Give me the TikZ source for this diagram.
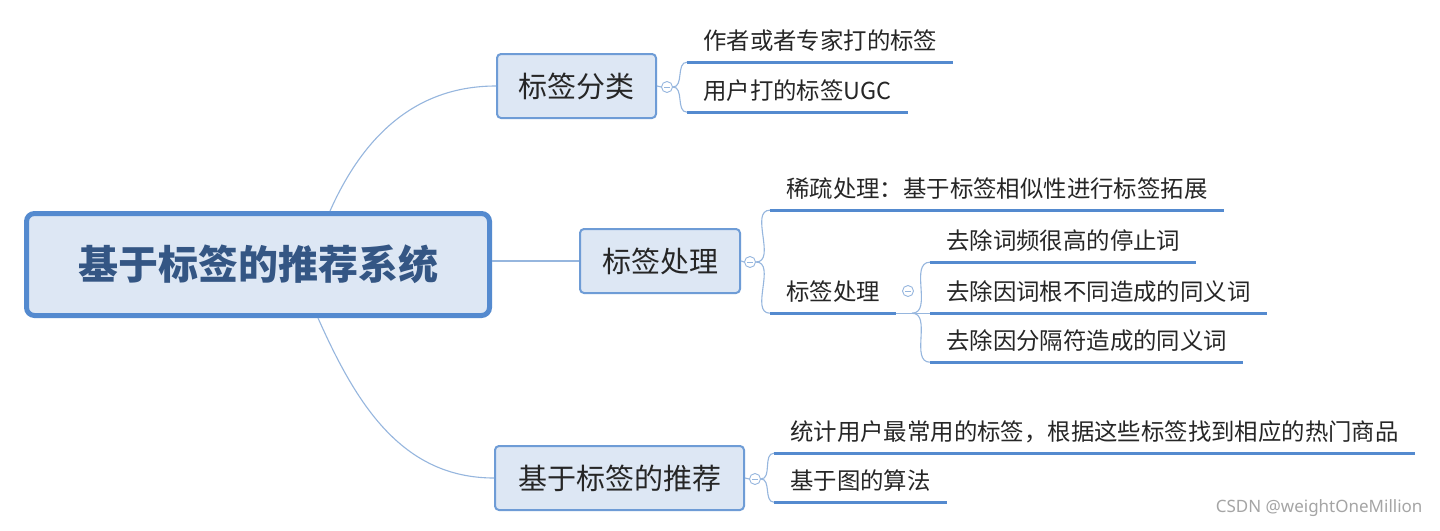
\documentclass[tikz,border=0pt]{standalone}
\usepackage{fontspec}
\setmainfont{Noto Sans CJK SC}
\newfontfamily\marksans{Noto Sans}
\usepackage{tikz}
\usetikzlibrary{calc,positioning}
\definecolor{mapblue}{RGB}{84,138,207}
\definecolor{mapline}{RGB}{150,182,222}
\definecolor{mapfill}{RGB}{221,231,244}
\definecolor{maptext}{RGB}{52,86,132}
\definecolor{mapdark}{RGB}{38,38,38}
\definecolor{mapgrey}{RGB}{165,165,165}
\tikzset{
  link/.style={line width=1.1pt, draw=mapline},
  uline/.style={line width=3pt, draw=mapblue},
  rootbox/.style={
    draw=mapblue,
    line width=5pt,
    rounded corners=8pt,
    fill=mapfill,
    text=maptext,
    font=\fontsize{40}{48}\selectfont\bfseries,
    minimum width=463pt,
    minimum height=102pt
  },
  topic/.style={
    draw=mapblue!85,
    line width=2pt,
    rounded corners=4pt,
    fill=mapfill,
    text=mapdark,
    font=\fontsize{29}{34}\selectfont,
    minimum height=64pt
  },
  leaf/.style={
    anchor=base west,
    font=\fontsize{23.4}{28}\selectfont,
    text=mapdark,
    inner xsep=16pt,
    inner ysep=0pt,
    text height=20pt,
    text depth=13pt
  },
  fold/.style={
    circle,
    draw=mapline,
    line width=0.9pt,
    fill=white,
    minimum size=11pt,
    inner sep=0pt,
    path picture={\draw[mapline,line width=0.9pt]
      ([xshift=-2.6pt]path picture bounding box.center) --
      ([xshift=2.6pt]path picture bounding box.center);}
  }
}

\begin{document}
\begin{tikzpicture}[x=1pt,y=-1pt]
  \useasboundingbox[fill=white] (0,0) rectangle (1440,530);

  \node[rootbox] (root) at (258,264.5) {基于标签的推荐系统};
  \node[topic,minimum width=159pt] (b1) at (576.5,86) {标签分类};
  \node[topic,minimum width=160pt] (b2) at (660,261) {标签处理};
  \node[topic,minimum width=249pt] (b3) at (619.5,478) {基于标签的推荐};

  \node[fold] (f1) at (667,87) {};
  \node[fold] (f2) at (750,262) {};
  \node[fold] (f3) at (755,479) {};
  \node[fold] (f4) at (908,291) {};

  \node[leaf] (l1) at (687,49) {作者或者专家打的标签};
  \node[leaf] (l2) at (687,99) {用户打的标签UGC};
  \node[leaf] (l3) at (770,197) {稀疏处理：基于标签相似性进行标签拓展};
  \node[leaf] (sub) at (770,300) {标签处理};
  \node[leaf] (s1) at (930,249) {去除词频很高的停止词};
  \node[leaf] (s2) at (930,300) {去除因词根不同造成的同义词};
  \node[leaf] (s3) at (930,349) {去除因分隔符造成的同义词};
  \node[leaf] (l6) at (774,440) {统计用户最常用的标签，根据这些标签找到相应的热门商品};
  \node[leaf] (l7) at (774,489) {基于图的算法};

  \node[anchor=east,text=mapgrey,font=\marksans\fontsize{17}{20}\selectfont] (mark) at (1426,508) {CSDN @weightOneMillion};

  % main branches
  \draw[link] ([xshift=72pt]root.north) to[out=66,in=180] (b1.west);
  \draw[link] (b2.west -| root.east) -- (b2.west);
  \draw[link] ([xshift=60pt]root.south) to[out=-66,in=180] (b3.west);
  \foreach \b/\f in {b1/f1,b2/f2,b3/f3}
    \draw[link] (\b.east) -- (\f.west);

  % leaves
  \foreach \f/\l in {f1/l1,f1/l2,f2/l3,f2/sub,f3/l6,f3/l7}
    \draw[link] (\f.east) to[out=0,in=180] (\l.south west);
  \coordinate (h) at ([xshift=16pt]sub.south east);
  \draw[link] (sub.south east) -- (h);
  \foreach \l in {s1,s2,s3}
    \draw[link] (h) to[out=0,in=180] (\l.south west);

  \foreach \l in {l1,l2,l3,sub,s1,s2,s3,l6,l7}
    \draw[uline] (\l.south west) -- (\l.south east);
\end{tikzpicture}
\end{document}
